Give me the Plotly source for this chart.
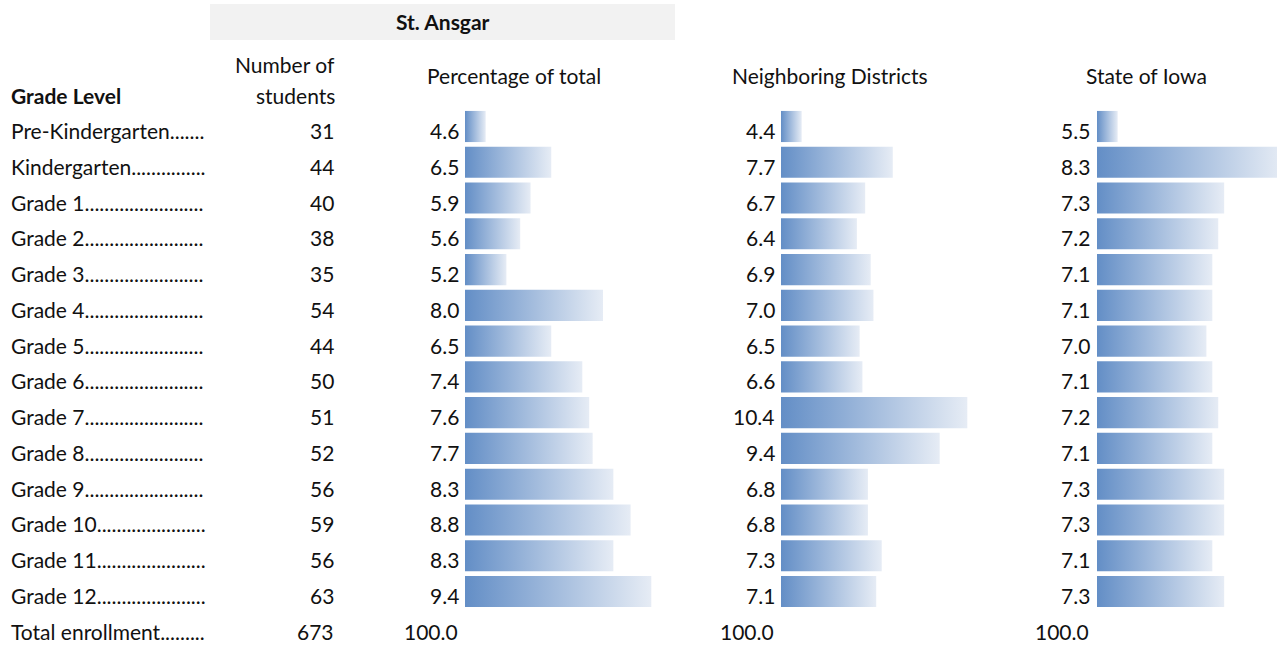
import plotly.graph_objects as go

grades = ["Pre-Kindergarten", "Kindergarten", "Grade 1", "Grade 2", "Grade 3", "Grade 4",
          "Grade 5", "Grade 6", "Grade 7", "Grade 8", "Grade 9", "Grade 10", "Grade 11", "Grade 12"]
students = [31, 44, 40, 38, 35, 54, 44, 50, 51, 52, 56, 59, 56, 63]
pct_total = [4.6, 6.5, 5.9, 5.6, 5.2, 8.0, 6.5, 7.4, 7.6, 7.7, 8.3, 8.8, 8.3, 9.4]
neighbor = [4.4, 7.7, 6.7, 6.4, 6.9, 7.0, 6.5, 6.6, 10.4, 9.4, 6.8, 6.8, 7.3, 7.1]
state = [5.5, 8.3, 7.3, 7.2, 7.1, 7.1, 7.0, 7.1, 7.2, 7.1, 7.3, 7.3, 7.1, 7.3]
total_label = "Total enrollment"
total_students = 673
total_pct = ["100.0", "100.0", "100.0"]
district = "St. Ansgar"
col_headers = ["Percentage of total", "Neighboring Districts", "State of Iowa"]

W, H = 1277, 646
FONT = "Lato"
FS = 21
TXT = "#111111"
C0, C1 = "#638EC6", "#E6ECF5"
YS = -4

# dot-leader lengths (layout styling: fill each label cell up to x ~205 px)
leader_len = [7, 15, 24, 24, 24, 24, 24, 24, 24, 24, 24, 22, 22, 22, 9]

row_px0 = 126.5
row_step = 35.77
r0 = -row_px0 / row_step
r1 = r0 + H / row_step

fig = go.Figure()

panels = [(pct_total, 465, 461), (neighbor, 781, 777), (state, 1097, 1092)]
cell_w = 207
annotations = []
for k, (vals, base_px, txt_px) in enumerate(panels):
    m, M = min(vals), max(vals)
    scale = 0.8 * cell_w / (M - m)
    base = m - (M - m) / 8
    end_px = min(base_px + cell_w, W)
    rng = [base, base + (end_px - base_px) / scale]
    axname = "xaxis" if k == 0 else f"xaxis{k+1}"
    xref = "x" if k == 0 else f"x{k+1}"
    fig.update_layout(**{axname: dict(domain=[base_px / W, end_px / W], range=rng, visible=False,
                                      fixedrange=True, anchor="y")})
    h = 0.435
    for i, v in enumerate(vals):
        fig.add_trace(go.Scatter(
            x=[base, v, v, base, base], y=[i - h, i - h, i + h, i + h, i - h],
            xaxis=xref, yaxis="y", mode="lines", line=dict(width=0),
            fill="toself", fillgradient=dict(type="horizontal", colorscale=[[0, C0], [1, C1]]),
            hoverinfo="skip", showlegend=False))
        annotations.append(dict(x=txt_px / W, xref="paper", y=i, yref="y", yshift=YS,
                                text=f"{v:.1f}", showarrow=False, xanchor="right", yanchor="middle",
                                font=dict(family=FONT, size=FS, color=TXT)))
    annotations.append(dict(x=(txt_px - 1) / W, xref="paper", y=len(vals), yref="y", yshift=YS,
                            text=total_pct[k], showarrow=False, xanchor="right", yanchor="middle",
                            font=dict(family=FONT, size=FS, color=TXT)))

labels = grades + [total_label]
counts = students + [total_students]
for i, (lab, c) in enumerate(zip(labels, counts)):
    annotations.append(dict(x=9 / W, xref="paper", y=i, yref="y", yshift=YS,
                            text=lab + "." * leader_len[i],
                            showarrow=False, xanchor="left", yanchor="middle",
                            font=dict(family=FONT, size=FS, color=TXT)))
    annotations.append(dict(x=336 / W, xref="paper", y=i, yref="y", yshift=YS, text=str(c),
                            showarrow=False, xanchor="right", yanchor="middle",
                            font=dict(family=FONT, size=FS, color=TXT)))

def py(p):
    return 1 - p / H

annotations += [
    dict(x=443 / W, y=py(22), xref="paper", yref="paper", text=f"<b>{district}</b>", showarrow=False,
         xanchor="center", yanchor="middle", font=dict(family=FONT, size=FS, color=TXT)),
    dict(x=9 / W, y=py(96), xref="paper", yref="paper", text="<b>Grade Level</b>", showarrow=False,
         xanchor="left", yanchor="middle", font=dict(family=FONT, size=FS, color=TXT)),
    dict(x=337 / W, y=py(64), xref="paper", yref="paper", text="Number of", showarrow=False,
         xanchor="right", yanchor="middle", font=dict(family=FONT, size=FS, color=TXT)),
    dict(x=337 / W, y=py(96), xref="paper", yref="paper", text="students", showarrow=False,
         xanchor="right", yanchor="middle", font=dict(family=FONT, size=FS, color=TXT)),
]
for cx, t in zip([514, 830, 1146], col_headers):
    annotations.append(dict(x=cx / W, y=py(75), xref="paper", yref="paper", text=t, showarrow=False,
                            xanchor="center", yanchor="middle", font=dict(family=FONT, size=FS, color=TXT)))

fig.update_layout(
    width=W, height=H, margin=dict(l=0, r=0, t=0, b=0),
    paper_bgcolor="white", plot_bgcolor="white",
    yaxis=dict(domain=[0, 1], range=[r1, r0], visible=False, fixedrange=True),
    annotations=annotations,
    shapes=[dict(type="rect", xref="paper", yref="paper", x0=210 / W, x1=675 / W, y0=py(40), y1=py(4),
                 fillcolor="#F2F2F2", line=dict(width=0), layer="below")],
    showlegend=False,
)
fig.write_html("out.html", config={"displayModeBar": False},
               post_script="document.body.style.margin='0';document.body.style.overflow='hidden';")
